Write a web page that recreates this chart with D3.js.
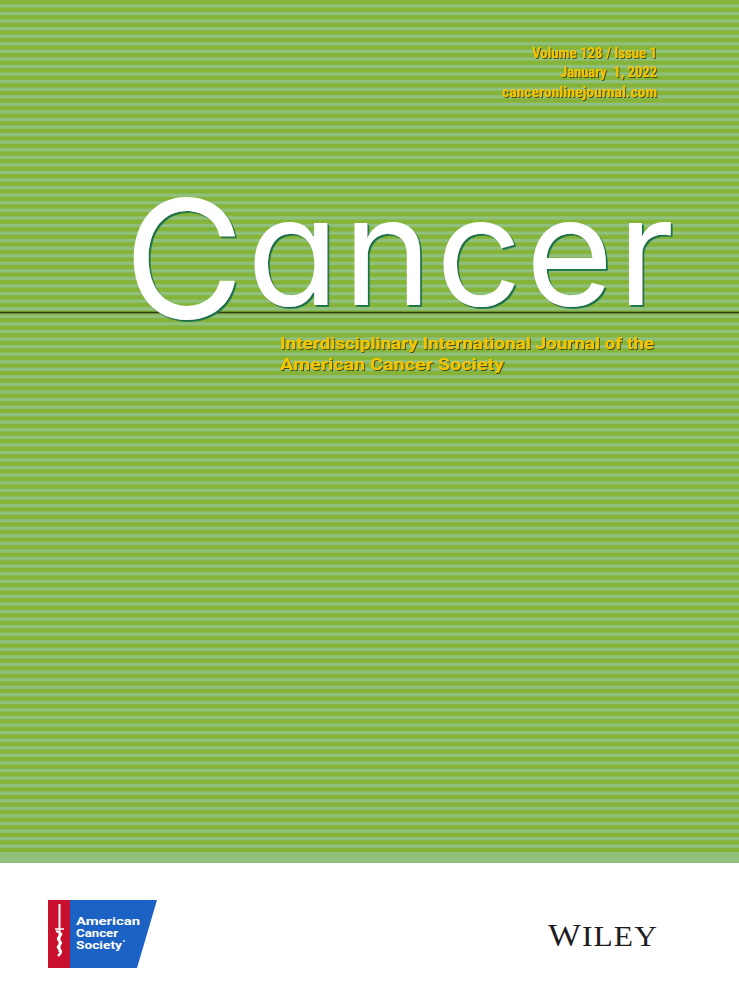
<!DOCTYPE html>
<html>
<head>
<meta charset="utf-8">
<script src="https://cdn.jsdelivr.net/npm/d3@7"></script>
<style>
  body { margin: 0; background: #fff; }
  svg { display: block; }
</style>
</head>
<body>
<script>
//// DATA

// issue info, top right
const issueLines = ["Volume 128 / Issue 1", "January  1, 2022", "canceronlinejournal.com"]
const issueWidths = [125, 97, 155]

// masthead, the big C is set apart from the rest
const titleParts = ["C", "ancer"]

const subtitleLines = ["Interdisciplinary International Journal of the", "American Cancer Society"]
const subtitleWidths = [374, 224]

const societyLines = ["American", "Cancer", "Society"]
const societyWidths = [64, 42, 46]
const publisher = ["W", "ILEY"]

//// STYLE

let width = 739
let height = 1000
let coverBottom = 863

let darkGreen = "rgb(134, 180, 56)"
let lightGreen = "rgb(143, 192, 126)"
let yellow = "rgb(246, 197, 0)"
let shade = "rgb(70, 80, 20)"
let titleShade = "rgb(22, 112, 72)"

let svg = d3.select("body")
  .append("svg")
  .attr("width", width)
  .attr("height", height)

// drop shadows as filters so each text is drawn once
let defs = svg.append("defs")

function mkShadow(id, dx, dy, color) {
  let f = defs.append("filter")
    .attr("id", id)
    .attr("x", "-10%").attr("y", "-10%")
    .attr("width", "120%").attr("height", "130%")
  f.append("feDropShadow")
    .attr("dx", dx)
    .attr("dy", dy)
    .attr("stdDeviation", 0.2)
    .attr("flood-color", color)
    .attr("flood-opacity", 1)
}
mkShadow("yellow-shadow", 1, 1, shade)
mkShadow("title-shadow", 1.8, 1.8, titleShade)

// green cover with thin horizontal stripes
svg.append("rect")
  .attr("width", width)
  .attr("height", coverBottom)
  .attr("fill", lightGreen)

let stripeStep = 7.57
let stripes = d3.range(0, 113).map(i => i * stripeStep)

svg.selectAll(".stripe")
  .data(stripes)
  .join("rect")
  .attr("class", "stripe")
  .attr("x", 0)
  .attr("y", d => d)
  .attr("width", width)
  .attr("height", 4.3)
  .attr("fill", darkGreen)

// rule under the masthead
svg.append("line")
  .attr("x1", 0)
  .attr("x2", width)
  .attr("y1", 312.5)
  .attr("y2", 312.5)
  .attr("stroke", "rgb(45, 58, 32)")
  .attr("stroke-width", 1.6)

// issue block, right aligned
let issueY = d3.scaleLinear().domain([0, 1]).range([57.5, 77])

svg.append("g")
  .attr("filter", "url(#yellow-shadow)")
  .selectAll("text")
  .data(issueLines)
  .join("text")
  .attr("x", 657)
  .attr("y", (d, i) => issueY(i))
  .attr("text-anchor", "end")
  .attr("textLength", (d, i) => issueWidths[i])
  .attr("lengthAdjust", "spacingAndGlyphs")
  .attr("fill", yellow)
  .style("white-space", "pre")
  .style("font-family", "'Liberation Sans Narrow', 'Roboto Condensed', 'Liberation Sans', sans-serif")
  .style("font-weight", 700)
  .style("font-size", "15.5px")
  .text(d => d)

// masthead
let title = svg.append("g")
  .attr("filter", "url(#title-shadow)")
  .attr("fill", "#fff")

title.append("text")
  .attr("x", 124)
  .attr("y", 318)
  .style("font-size", "164px")
  .text(titleParts[0])

title.append("text")
  .attr("x", 247)
  .attr("y", 305)
  .attr("textLength", 427)
  .attr("lengthAdjust", "spacing")
  .style("font-size", "150px")
  .text(titleParts[1])

title.selectAll("text")
  .style("font-family", "Inter, 'Open Sans', sans-serif")
  .style("font-weight", 400)
  .style("font-feature-settings", '"cv11" 1')

// subtitle
let subY = d3.scaleLinear().domain([0, 1]).range([349, 369.5])

svg.append("g")
  .attr("filter", "url(#yellow-shadow)")
  .selectAll("text")
  .data(subtitleLines)
  .join("text")
  .attr("x", 280)
  .attr("y", (d, i) => subY(i))
  .attr("textLength", (d, i) => subtitleWidths[i])
  .attr("lengthAdjust", "spacingAndGlyphs")
  .attr("fill", yellow)
  .style("font-family", "Roboto, 'Open Sans', sans-serif")
  .style("font-weight", 700)
  .style("font-size", "17px")
  .text(d => d)

// white footer
svg.append("rect")
  .attr("y", coverBottom)
  .attr("width", width)
  .attr("height", height - coverBottom)
  .attr("fill", "#fff")

// American Cancer Society logo
let logo = svg.append("g")

logo.append("path")
  .attr("d", d3.line()([[70, 900], [157, 900], [137, 968], [70, 968]]))
  .attr("fill", "rgb(28, 98, 196)")

logo.append("rect")
  .attr("x", 48)
  .attr("y", 900)
  .attr("width", 22)
  .attr("height", 68)
  .attr("fill", "rgb(200, 16, 46)")

// sword and snake
logo.append("line")
  .attr("x1", 59.5).attr("x2", 59.5)
  .attr("y1", 904).attr("y2", 952)
  .attr("stroke", "#fff")
  .attr("stroke-width", 2)
logo.append("path")
  .attr("d", d3.line().curve(d3.curveBasis)([
    [56, 931], [64, 934], [55, 939], [64, 943], [55, 947], [63, 951], [58, 956]
  ]))
  .attr("fill", "none")
  .attr("stroke", "#fff")
  .attr("stroke-width", 2.4)
logo.append("line")
  .attr("x1", 55).attr("x2", 64)
  .attr("y1", 929).attr("y2", 929)
  .attr("stroke", "#fff")
  .attr("stroke-width", 1.5)

let acsY = d3.scaleLinear().domain([0, 2]).range([925, 948.5])

logo.selectAll(".acs")
  .data(societyLines)
  .join("text")
  .attr("class", "acs")
  .attr("x", 76)
  .attr("y", (d, i) => acsY(i))
  .attr("textLength", (d, i) => societyWidths[i])
  .attr("lengthAdjust", "spacingAndGlyphs")
  .attr("fill", "#fff")
  .style("font-family", "Roboto, 'DejaVu Sans', sans-serif")
  .style("font-weight", 700)
  .style("font-size", "10px")
  .text(d => d)

// registered mark sits just after "Society"
logo.append("circle")
  .attr("cx", 76 + societyWidths[2] + 2)
  .attr("cy", 941)
  .attr("r", 0.9)
  .attr("fill", "#fff")

// publisher, the W is set a touch larger
let wiley = svg.append("text")
  .attr("x", 548)
  .attr("y", 946)
  .attr("textLength", 110)
  .attr("lengthAdjust", "spacingAndGlyphs")
  .attr("fill", "#1e1e1e")
  .style("font-family", "'Liberation Serif', 'DejaVu Serif', serif")
  .style("letter-spacing", "1px")

wiley.selectAll("tspan")
  .data(publisher)
  .join("tspan")
  .style("font-size", (d, i) => i == 0 ? "32px" : "29px")
  .text(d => d)
</script>
</body>
</html>
